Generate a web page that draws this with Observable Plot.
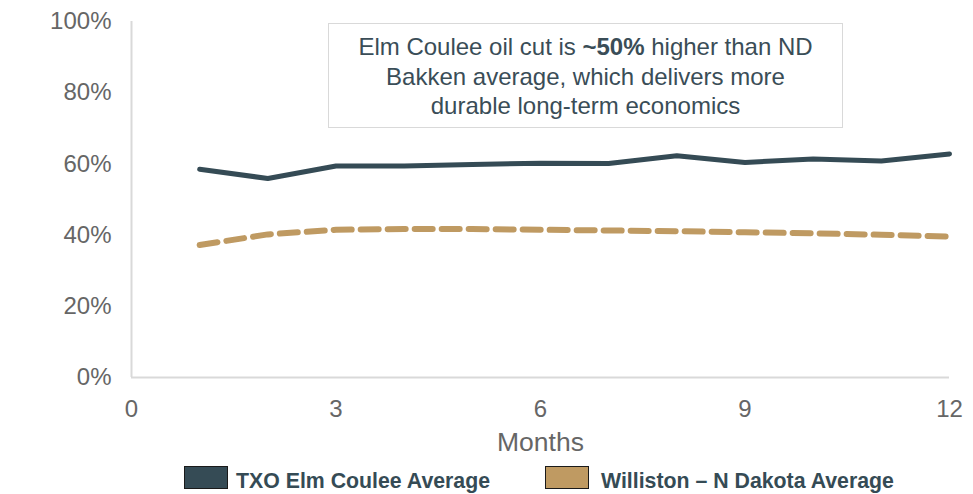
<!DOCTYPE html>
<html>
<head>
<meta charset="utf-8">
<script src="https://cdn.jsdelivr.net/npm/d3@7"></script>
<script src="https://cdn.jsdelivr.net/npm/@observablehq/plot@0.6"></script>
<style>
  html, body { margin: 0; padding: 0; background: #fff; }
  #wrap { position: relative; width: 973px; height: 494px; font-family: "Liberation Sans", Arial, sans-serif; }
  #note {
    position: absolute; left: 328px; top: 23px; width: 515px; height: 105px;
    border: 1px solid #d9d9d9; box-sizing: border-box; background: #fff;
    text-align: center; color: #3a4d57; font-size: 24px; line-height: 29.5px;
    padding-top: 8px;
  }
  #legend { position: absolute; left: 0; top: 458px; width: 973px; height: 36px; }
  .item { position: absolute; top: 8px; display: flex; align-items: flex-start; font-weight: bold; font-size: 21.3px; color: #354b55; }
  .item span { margin-top: 3px; line-height: 24px; }
  .sw { width: 42px; height: 21px; border: 1.5px solid #1a1a1a; margin-right: 8px; }
</style>
</head>
<body>
<div id="wrap">
  <div id="chart"></div>
  <div id="note">Elm Coulee oil cut is <b>~50%</b> higher than ND<br>Bakken average, which delivers more<br>durable long-term economics</div>
  <div id="legend"></div>
</div>
<script>
const months = [1, 2, 3, 4, 5, 6, 7, 8, 9, 10, 11, 12];
const elmCoulee = [0.585, 0.559, 0.594, 0.594, 0.598, 0.602, 0.601, 0.623, 0.604, 0.614, 0.608, 0.628];
const williston = [0.372, 0.402, 0.415, 0.417, 0.417, 0.415, 0.413, 0.411, 0.408, 0.405, 0.401, 0.396];
const seriesNames = ["TXO Elm Coulee Average", "Williston \u2013 N Dakota Average"];
const seriesColors = ["#354b55", "#bf9a62"];
const xTicks = [0, 3, 6, 9, 12];
const yTicks = [0, 0.2, 0.4, 0.6, 0.8, 1.0];

const rowsA = months.map((m, i) => ({month: m, value: elmCoulee[i]}));
const rowsB = months.map((m, i) => ({month: m, value: williston[i]}));

const chart = Plot.plot({
  width: 973,
  height: 458,
  marginLeft: 131,
  marginRight: 24,
  marginTop: 21,
  marginBottom: 81,
  style: {fontFamily: "'Liberation Sans', Arial, sans-serif", fontSize: "24px", color: "#666"},
  x: {domain: [0, 12], ticks: xTicks, tickSize: 0, tickPadding: 22, label: "Months", labelAnchor: "center", labelArrow: "none", labelOffset: 73},
  y: {domain: [0, 1], ticks: yTicks, tickFormat: d3.format(".0%"), tickSize: 0, tickPadding: 20, label: null},
  marks: [
    Plot.ruleX([0], {stroke: "#d9d9d9", strokeWidth: 2}),
    Plot.ruleY([0], {stroke: "#d9d9d9", strokeWidth: 2}),
    Plot.line(rowsB, {x: "month", y: "value", stroke: seriesColors[1], strokeWidth: 6, strokeDasharray: "18,9", strokeLinecap: "round"}),
    Plot.line(rowsA, {x: "month", y: "value", stroke: seriesColors[0], strokeWidth: 5})
  ]
});
chart.querySelectorAll("[aria-label='x-axis label'] text").forEach(t => t.style.fontSize = "26.5px");
document.getElementById("chart").appendChild(chart);

const legend = document.getElementById("legend");
const lefts = [184, 545];
seriesNames.forEach((n, i) => {
  const it = document.createElement("div");
  it.className = "item";
  it.style.left = lefts[i] + "px";
  const sw = document.createElement("div");
  sw.className = "sw";
  sw.style.background = seriesColors[i];
  const tx = document.createElement("span");
  tx.textContent = n;
  it.appendChild(sw); it.appendChild(tx);
  if (i === 1) tx.style.marginLeft = "4px";
  legend.appendChild(it);
});
</script>
</body>
</html>
